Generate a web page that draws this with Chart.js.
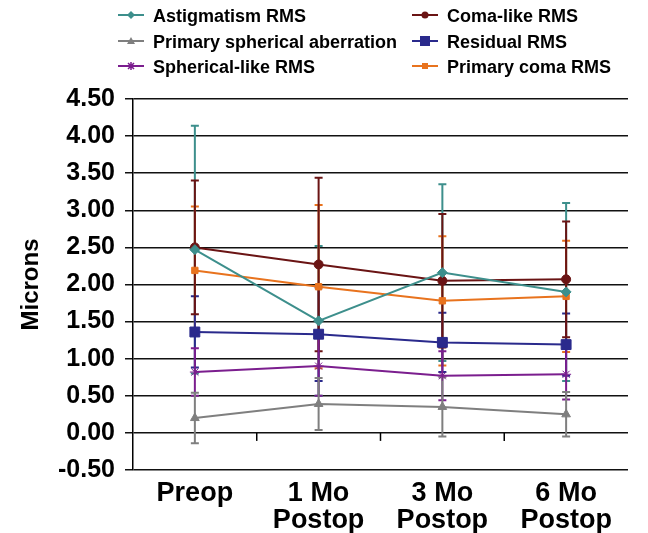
<!DOCTYPE html>
<html>
<head>
<meta charset="utf-8">
<script src="https://cdn.jsdelivr.net/npm/chart.js@4.4.1/dist/chart.umd.min.js"></script>
<style>
  html, body { margin: 0; padding: 0; background: #fff; }
  #wrap { position: relative; width: 648px; height: 533px; }
  #legend { position: absolute; left: 0; top: 0; width: 648px; font: bold 18px "Liberation Sans", Arial, sans-serif; color: #000; }
  .item { position: absolute; height: 22px; line-height: 22px; white-space: nowrap; }
  .item svg { position: absolute; left: 0; top: 4px; }
  .item span { position: absolute; left: 35px; top: 0; }
</style>
</head>
<body>
<div id="wrap">
  <canvas id="chart" width="648" height="533"></canvas>
  <div id="legend"></div>
</div>
<script>
  // Categories and tick labels
  const categories = [['Preop'], ['1 Mo', 'Postop'], ['3 Mo', 'Postop'], ['6 Mo', 'Postop']];
  const yMin = -0.5, yMax = 4.5, yStep = 0.5;

  // Means and standard deviations (microns)
  const astigmatism = [2.47, 1.51, 2.16, 1.90];
  const astigmatismSD = [1.67, 1.01, 1.19, 1.20];
  const comaLike = [2.50, 2.27, 2.05, 2.07];
  const comaLikeSD = [0.90, 1.17, 0.90, 0.78];
  const primarySpherical = [0.20, 0.39, 0.35, 0.25];
  const primarySphericalSD = [0.34, 0.35, 0.40, 0.30];
  const residual = [1.36, 1.33, 1.22, 1.19];
  const residualSD = [0.48, 0.63, 0.40, 0.42];
  const sphericalLike = [0.82, 0.90, 0.77, 0.79];
  const sphericalLikeSD = [0.32, 0.40, 0.33, 0.34];
  const primaryComa = [2.19, 1.97, 1.78, 1.84];
  const primaryComaSD = [0.86, 1.10, 0.87, 0.75];

  const font = '"Liberation Sans", Arial, sans-serif';

  function series(label, data, sd, color, style, radius) {
    return {
      label: label, data: data, sd: sd,
      borderColor: color, backgroundColor: color,
      borderWidth: 2, pointStyle: style, pointRadius: radius, pointHoverRadius: radius,
      pointBorderWidth: 1, tension: 0, fill: false
    };
  }

  const datasets = [
    series('Astigmatism RMS', astigmatism, astigmatismSD, '#3d8f8c', 'rectRot', 5),
    series('Coma-like RMS', comaLike, comaLikeSD, '#6a1414', 'circle', 4.5),
    series('Primary spherical aberration', primarySpherical, primarySphericalSD, '#7f7f7f', 'triangle', 5),
    series('Residual RMS', residual, residualSD, '#2a2a8c', 'rect', 7),
    series('Spherical-like RMS', sphericalLike, sphericalLikeSD, '#7b1e8e', 'star', 5),
    series('Primary coma RMS', primaryComa, primaryComaSD, '#e8731e', 'rect', 4.5)
  ];

  // order in which the error bars are painted (last one ends on top)
  const errorOrder = [0, 5, 3, 1, 4, 2];

  const errorBars = {
    id: 'errorBars',
    beforeDatasetsDraw(chart) {
      const ctx = chart.ctx, y = chart.scales.y;
      ctx.save();
      ctx.lineWidth = 2;
      errorOrder.forEach(i => {
        const ds = chart.data.datasets[i];
        const meta = chart.getDatasetMeta(i);
        ctx.strokeStyle = ds.borderColor;
        meta.data.forEach((pt, j) => {
          const hi = y.getPixelForValue(ds.data[j] + ds.sd[j]);
          const lo = y.getPixelForValue(ds.data[j] - ds.sd[j]);
          ctx.beginPath();
          ctx.moveTo(pt.x, hi); ctx.lineTo(pt.x, lo);
          ctx.moveTo(pt.x - 4, hi); ctx.lineTo(pt.x + 4, hi);
          ctx.moveTo(pt.x - 4, lo); ctx.lineTo(pt.x + 4, lo);
          ctx.stroke();
        });
      });
      ctx.restore();
    }
  };

  // category tick marks on the zero line
  const zeroTicks = {
    id: 'zeroTicks',
    afterDraw(chart) {
      const ctx = chart.ctx, x = chart.scales.x, y = chart.scales.y;
      const y0 = y.getPixelForValue(0);
      ctx.save();
      ctx.strokeStyle = '#000';
      ctx.lineWidth = 1.5;
      for (let i = 0; i < categories.length - 1; i++) {
        const bx = (x.getPixelForTick(i) + x.getPixelForTick(i + 1)) / 2;
        ctx.beginPath();
        ctx.moveTo(bx, y0); ctx.lineTo(bx, y0 + 8);
        ctx.stroke();
      }
      ctx.restore();
    }
  };

  new Chart(document.getElementById('chart'), {
    type: 'line',
    data: { labels: categories, datasets: datasets },
    options: {
      responsive: false,
      animation: false,
      layout: { padding: { top: 99, right: 20, bottom: -11, left: 19 } },
      plugins: { legend: { display: false }, tooltip: { enabled: false } },
      scales: {
        x: {
          offset: true,
          grid: { display: false, drawTicks: false, offset: true },
          border: { display: false },
          ticks: { color: '#000', padding: 10, font: { family: font, size: 27, weight: 'bold', lineHeight: 1.0 } }
        },
        y: {
          min: yMin, max: yMax,
          grid: { color: '#111', lineWidth: 1.5, tickLength: 8 },
          border: { color: '#000', width: 1.5 },
          ticks: {
            stepSize: yStep, color: '#000', padding: 10,
            font: { family: font, size: 25, weight: 'bold' },
            callback: v => Number(v).toFixed(2)
          },
          title: { display: true, text: 'Microns', color: '#000', padding: { top: 0, bottom: 5 }, font: { family: font, size: 24, weight: 'bold', lineHeight: 1.0 } }
        }
      }
    },
    plugins: [errorBars, zeroTicks]
  });

  // legend: two columns, three rows
  const legendPos = [[118, 5], [412, 5], [118, 31], [412, 31], [118, 56], [412, 56]];
  const symbols = {
    rectRot: c => `<polygon points="13,2 17,6 13,10 9,6" fill="${c}"/>`,
    circle: c => `<circle cx="13" cy="6" r="3.5" fill="${c}"/>`,
    triangle: c => `<polygon points="13,2 17,9 9,9" fill="${c}"/>`,
    rect: c => `<rect x="8" y="1" width="10" height="10" fill="${c}"/>`,
    star: c => `<path d="M10,3 L16,9 M16,3 L10,9 M13,2 L13,10" stroke="${c}" stroke-width="1.5"/>`,
    small: c => `<rect x="10" y="3" width="6" height="6" fill="${c}"/>`
  };
  const legend = document.getElementById('legend');
  datasets.forEach((ds, i) => {
    const key = i === 5 ? 'small' : ds.pointStyle;
    const div = document.createElement('div');
    div.className = 'item';
    div.style.left = legendPos[i][0] + 'px';
    div.style.top = legendPos[i][1] + 'px';
    div.innerHTML = `<svg width="26" height="12"><line x1="0" y1="6" x2="26" y2="6" stroke="${ds.borderColor}" stroke-width="2"/>${symbols[key](ds.borderColor)}</svg><span>${ds.label}</span>`;
    legend.appendChild(div);
  });
</script>
</body>
</html>
